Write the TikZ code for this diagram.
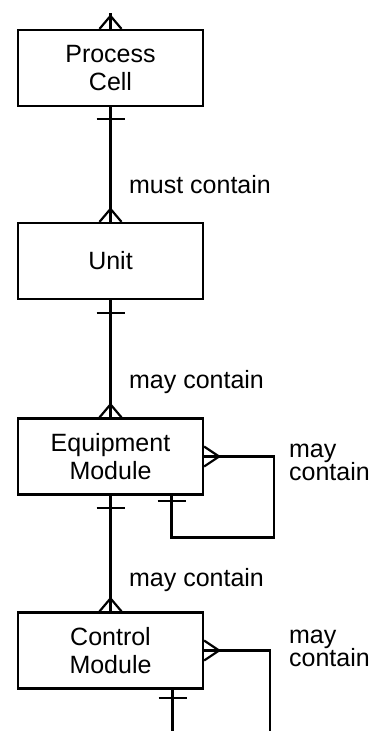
\documentclass[tikz,border=0pt]{standalone}
\usepackage{fontspec}
\setmainfont{Liberation Sans}
\usetikzlibrary{calc}
\begin{document}
\begin{tikzpicture}[x=1pt,y=-1pt,line width=2.2pt,
  box/.style={draw,minimum width=185pt,minimum height=76pt,inner sep=0pt,align=center,
    font=\fontsize{25}{28}\selectfont},
  lbl/.style={inner sep=0pt,font=\fontsize{25}{28}\selectfont},
  crowN/.pic={\draw (-11,0) -- (0,-13) -- (11,0);},
  crowE/.pic={\draw (0,-10) -- (15,0) -- (0,10);},
  barH/.pic={\draw (-14,0) -- (14,0);}]
\useasboundingbox (0,0) rectangle (373,731);

\node[box] (pc) at (110.5,68) {Process\\Cell};
\node[box] (u) at (110.5,261) {Unit};
\node[box] (em) at (110.5,456.5) {Equipment\\Module};
\node[box] (cm) at (110.5,650.5) {Control\\Module};

\coordinate (top) at (110.5,13);
\coordinate (emret) at ($(em.south)+(61,0)$);
\coordinate (cmout) at (270,731);
\coordinate (cmstart) at ($(cm.south)+(62,0)$);
\coordinate (cmdown) at (172.5,731);

% vertical connectors
\draw (top) -- (pc.north);
\draw (pc.south) -- (u.north);
\draw (u.south) -- (em.north);
\draw (em.south) -- (cm.north);

% self loops
\draw (em.east) -- ++(70,0) -- ++(0,81) -| (emret);
\draw (cm.east) -| (cmout);
\draw (cmstart) -- (cmdown);

% crow's feet
\pic at (pc.north) {crowN};
\pic at (u.north) {crowN};
\pic at (em.north) {crowN};
\pic at (cm.north) {crowN};
\pic at (em.east) {crowE};
\pic at (cm.east) {crowE};

% bars
\pic at ($(pc.south)+(0,12)$) {barH};
\pic at ($(u.south)+(0,13)$) {barH};
\pic at ($(em.south)+(0,12)$) {barH};
\pic at ($(emret)+(0,5)$) {barH};
\pic at ($(cmstart)+(0,8)$) {barH};

% labels
\node[lbl,anchor=base west] (l1) at (128,193) {must contain};
\node[lbl,anchor=base west] (l2) at (128,388) {may contain};
\node[lbl,anchor=base west] (l3) at (128,586) {may contain};
\node[lbl,anchor=base west] (l4a) at (288,457) {may};
\node[lbl,anchor=base west] (l4b) at (288,480) {contain};
\node[lbl,anchor=base west] (l5a) at (288,643) {may};
\node[lbl,anchor=base west] (l5b) at (288,666) {contain};
\end{tikzpicture}
\end{document}
